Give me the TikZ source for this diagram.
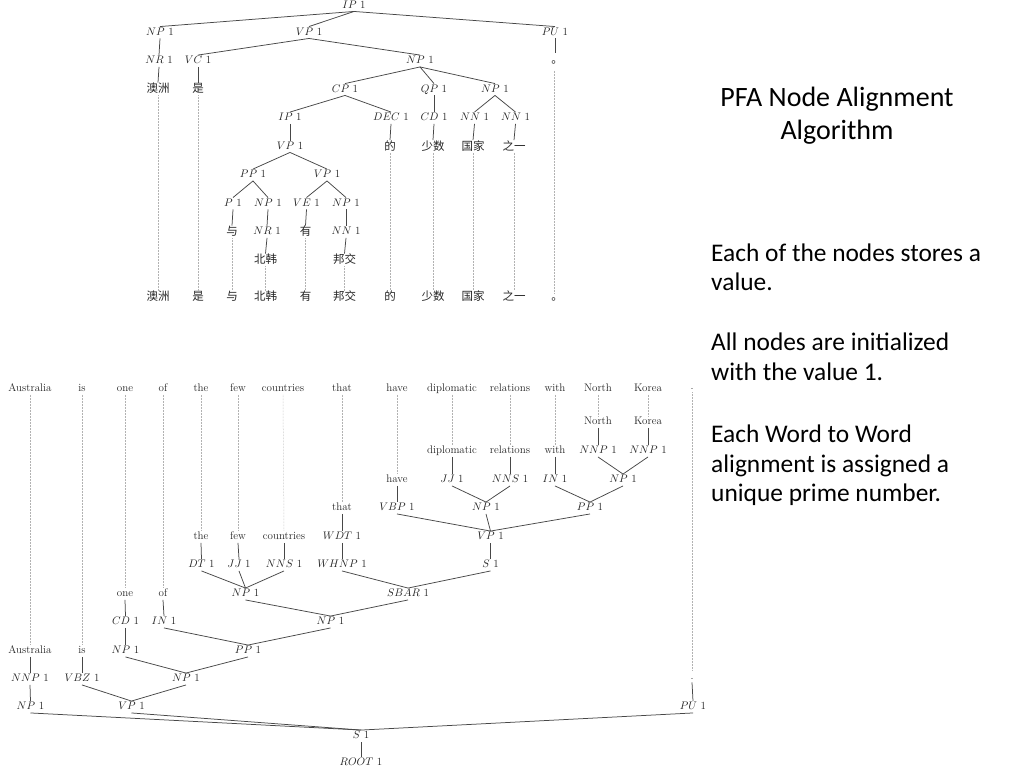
\documentclass[tikz,border=0pt]{standalone}
\usepackage{fontspec}
\newfontfamily\cjkfont{Noto Sans CJK SC}
\newfontfamily\sidefont{Carlito}
\newcommand{\tcat}[1]{$#1$\ 1}
\begin{document}
\begin{tikzpicture}[x=1pt,y=-1pt,
  lab/.style={inner sep=1pt, text height=7.5pt, text depth=2pt, font=\fontsize{11}{13}\selectfont, text=black!85},
  zh/.style={inner sep=1pt, text height=9pt, text depth=1.5pt, font=\cjkfont\fontsize{11.5}{13}\selectfont, text=black!85},
  edge/.style={draw=black!72, line width=0.75pt},
  dots/.style={draw=black!30, line width=0.5pt, densely dotted},
  sidetext/.style={font=\sidefont\fontsize{25.4}{30}\selectfont, anchor=base west, inner sep=0pt, text=black},
  titletext/.style={font=\sidefont\fontsize{28}{33}\selectfont, anchor=base, inner sep=0pt, text=black}]
\useasboundingbox (0,0) rectangle (1024,768);
\fill[white] (0,0) rectangle (1024,768);

% ================= top tree =================
\node[lab] (tip) at (354,5.5) {\tcat{IP}};
\node[lab] (tnp) at (160,32.5) {\tcat{NP}};
\node[lab] (tvp) at (309,32.5) {\tcat{VP}};
\node[lab] (tpu) at (555,32.5) {\tcat{PU}};
\node[lab] (tnr) at (159,61) {\tcat{NR}};
\node[lab] (tvc) at (198,61) {\tcat{VC}};
\node[lab] (tnp2) at (420,61) {\tcat{NP}};
\node[zh] (tw1) at (158,89) {澳洲};
\node[zh] (tw2) at (198,89) {是};
\node[zh] (tw11) at (557.2,59.3) {。};
\node[lab] (tcp) at (345,89.5) {\tcat{CP}};
\node[lab] (tqp) at (434,89.5) {\tcat{QP}};
\node[lab] (tnp3) at (495,89.5) {\tcat{NP}};
\node[lab] (tip2) at (290,118) {\tcat{IP}};
\node[lab] (tdec) at (391,118) {\tcat{DEC}};
\node[lab] (tcd) at (434,118) {\tcat{CD}};
\node[lab] (tnn1) at (474.5,118) {\tcat{NN}};
\node[lab] (tnn2) at (515.5,118) {\tcat{NN}};
\node[lab] (tvp2) at (290,146.5) {\tcat{VP}};
\node[zh] (tw7) at (390,146.5) {的};
\node[zh] (tw8) at (433,146.5) {少数};
\node[zh] (tw9) at (473,146.5) {国家};
\node[zh] (tw10) at (514,146.5) {之一};
\node[lab] (tpp) at (253,175) {\tcat{PP}};
\node[lab] (tvp3) at (327,175) {\tcat{VP}};
\node[lab] (tp) at (233,203.5) {\tcat{P}};
\node[lab] (tnp4) at (268,203.5) {\tcat{NP}};
\node[lab] (tve) at (306.5,203.5) {\tcat{VE}};
\node[lab] (tnp5) at (346,203.5) {\tcat{NP}};
\node[zh] (tw3) at (232,232) {与};
\node[lab] (tnr2) at (267,232) {\tcat{NR}};
\node[zh] (tw5) at (305.5,232) {有};
\node[lab] (tnn3) at (346,232) {\tcat{NN}};
\node[zh] (tw4) at (265.5,260) {北韩};
\node[zh] (tw6) at (344.5,260) {邦交};
% bottom row
\node[zh] (tb1) at (158,297) {澳洲};
\node[zh] (tb2) at (198,297) {是};
\node[zh] (tb3) at (232,297) {与};
\node[zh] (tb4) at (265.5,297) {北韩};
\node[zh] (tb5) at (305.5,297) {有};
\node[zh] (tb6) at (344.5,297) {邦交};
\node[zh] (tb7) at (390,297) {的};
\node[zh] (tb8) at (433,297) {少数};
\node[zh] (tb9) at (473,297) {国家};
\node[zh] (tb10) at (514,297) {之一};
\node[zh] (tb11) at (557.2,296.3) {。};

% top tree edges
\draw[edge] (tip.south) -- (tnp.north);
\draw[edge] (tip.south) -- (tvp.north);
\draw[edge] (tip.south) -- (tpu.north);
\draw[edge] (tnp.south) -- (tnr.north);
\draw[edge] (tnr.south) -- (tw1.north);
\draw[edge] (tvp.south) -- (tvc.north);
\draw[edge] (tvp.south) -- (tnp2.north);
\draw[edge] (tvc.south) -- (tw2.north);
\draw[edge] (tpu.south) -- ([xshift=-2.2pt]tw11.north);
\draw[edge] (tnp2.south) -- (tcp.north);
\draw[edge] (tnp2.south) -- (tqp.north);
\draw[edge] (tnp2.south) -- (tnp3.north);
\draw[edge] (tcp.south) -- (tip2.north);
\draw[edge] (tcp.south) -- (tdec.north);
\draw[edge] (tqp.south) -- (tcd.north);
\draw[edge] (tnp3.south) -- (tnn1.north);
\draw[edge] (tnp3.south) -- (tnn2.north);
\draw[edge] (tdec.south) -- (tw7.north);
\draw[edge] (tcd.south) -- (tw8.north);
\draw[edge] (tnn1.south) -- (tw9.north);
\draw[edge] (tnn2.south) -- (tw10.north);
\draw[edge] (tip2.south) -- (tvp2.north);
\draw[edge] (tvp2.south) -- (tpp.north);
\draw[edge] (tvp2.south) -- (tvp3.north);
\draw[edge] (tpp.south) -- (tp.north);
\draw[edge] (tpp.south) -- (tnp4.north);
\draw[edge] (tvp3.south) -- (tve.north);
\draw[edge] (tvp3.south) -- (tnp5.north);
\draw[edge] (tp.south) -- (tw3.north);
\draw[edge] (tnp4.south) -- (tnr2.north);
\draw[edge] (tnr2.south) -- (tw4.north);
\draw[edge] (tve.south) -- (tw5.north);
\draw[edge] (tnp5.south) -- (tnn3.north);
\draw[edge] (tnn3.south) -- (tw6.north);
% dotted alignments (top)
\draw[dots] (tw1.south) -- (tb1.north);
\draw[dots] (tw2.south) -- (tb2.north);
\draw[dots] (tw3.south) -- (tb3.north);
\draw[dots] (tw4.south) -- (tb4.north);
\draw[dots] (tw5.south) -- (tb5.north);
\draw[dots] (tw6.south) -- (tb6.north);
\draw[dots] (tw7.south) -- (tb7.north);
\draw[dots] (tw8.south) -- (tb8.north);
\draw[dots] (tw9.south) -- (tb9.north);
\draw[dots] (tw10.south) -- (tb10.north);
\draw[dots] ([xshift=-3.2pt,yshift=-5pt]tw11.south) -- ([xshift=-3.2pt,yshift=-4pt]tb11.north);

% ================= bottom tree =================
\node[lab] (ew1) at (30,389) {Australia};
\node[lab] (ew2) at (82,389) {is};
\node[lab] (ew3) at (125,389) {one};
\node[lab] (ew4) at (163,389) {of};
\node[lab] (ew5) at (201,389) {the};
\node[lab] (ew6) at (238,389) {few};
\node[lab] (ew7) at (283,389) {countries};
\node[lab] (ew8) at (342,389) {that};
\node[lab] (ew9) at (397,389) {have};
\node[lab] (ew10) at (452,389) {diplomatic};
\node[lab] (ew11) at (510,389) {relations};
\node[lab] (ew12) at (555,389) {with};
\node[lab] (ew13) at (598,389) {North};
\node[lab] (ew14) at (648,389) {Korea};
\node[lab] (ew15) at (692,386.5) {.};

\node[lab] (el1) at (30,651) {Australia};
\node[lab] (el2) at (82,651) {is};
\node[lab] (el3) at (125,594) {one};
\node[lab] (el4) at (163,594) {of};
\node[lab] (el5) at (201,537) {the};
\node[lab] (el6) at (238,537) {few};
\node[lab] (el7) at (284,537) {countries};
\node[lab] (el8) at (342,508) {that};
\node[lab] (el9) at (397,480) {have};
\node[lab] (el10) at (452,451) {diplomatic};
\node[lab] (el11) at (510,451) {relations};
\node[lab] (el12) at (555,451) {with};
\node[lab] (el13) at (598,422) {North};
\node[lab] (el14) at (648,422) {Korea};
\node[lab] (el15) at (692,676.5) {.};

\node[lab] (ennp1) at (30,679) {\tcat{NNP}};
\node[lab] (evbz) at (82,679) {\tcat{VBZ}};
\node[lab] (ecd) at (125.5,622) {\tcat{CD}};
\node[lab] (ein1) at (164,622) {\tcat{IN}};
\node[lab] (edt) at (201.5,565) {\tcat{DT}};
\node[lab] (ejj1) at (239,565) {\tcat{JJ}};
\node[lab] (enns1) at (284,565) {\tcat{NNS}};
\node[lab] (ewdt) at (342,537) {\tcat{WDT}};
\node[lab] (evbp) at (397,508) {\tcat{VBP}};
\node[lab] (ejj2) at (452,480) {\tcat{JJ}};
\node[lab] (enns2) at (510,480) {\tcat{NNS}};
\node[lab] (ein2) at (555,480) {\tcat{IN}};
\node[lab] (ennp2) at (598,451) {\tcat{NNP}};
\node[lab] (ennp3) at (648,451) {\tcat{NNP}};

\node[lab] (enp1) at (30.5,707) {\tcat{NP}};
\node[lab] (enp2) at (125.5,651) {\tcat{NP}};
\node[lab] (ewhnp) at (342,565) {\tcat{WHNP}};
\node[lab] (enp3) at (623,480) {\tcat{NP}};
\node[lab] (epp1) at (590,508) {\tcat{PP}};
\node[lab] (enp4) at (486,508) {\tcat{NP}};
\node[lab] (evp1) at (490.5,537) {\tcat{VP}};
\node[lab] (es1) at (490.5,565) {\tcat{S}};
\node[lab] (esbar) at (408,594) {\tcat{SBAR}};
\node[lab] (enp5) at (245.5,594) {\tcat{NP}};
\node[lab] (enp6) at (330.5,622) {\tcat{NP}};
\node[lab] (epp2) at (248,651) {\tcat{PP}};
\node[lab] (enp7) at (186,679) {\tcat{NP}};
\node[lab] (evp2) at (131.5,707) {\tcat{VP}};
\node[lab] (epu) at (693,707) {\tcat{PU}};
\node[lab] (es2) at (361,736) {\tcat{S}};
\node[lab] (eroot) at (361,763) {\tcat{ROOT}};

% dotted alignments (bottom)
\draw[dots] (ew1.south) -- (el1.north);
\draw[dots] (ew2.south) -- (el2.north);
\draw[dots] (ew3.south) -- (el3.north);
\draw[dots] (ew4.south) -- (el4.north);
\draw[dots] (ew5.south) -- (el5.north);
\draw[dots] (ew6.south) -- (el6.north);
\draw[dots] (ew7.south) -- (el7.north);
\draw[dots] (ew8.south) -- (el8.north);
\draw[dots] (ew9.south) -- (el9.north);
\draw[dots] (ew10.south) -- (el10.north);
\draw[dots] (ew11.south) -- (el11.north);
\draw[dots] (ew12.south) -- (el12.north);
\draw[dots] (ew13.south) -- (el13.north);
\draw[dots] (ew14.south) -- (el14.north);
\draw[dots] (ew15.south) -- (el15.north);

% bottom tree edges
\draw[edge] (el1.south) -- (ennp1.north);
\draw[edge] (ennp1.south) -- (enp1.north);
\draw[edge] (el2.south) -- (evbz.north);
\draw[edge] (el3.south) -- (ecd.north);
\draw[edge] (ecd.south) -- (enp2.north);
\draw[edge] (el4.south) -- (ein1.north);
\draw[edge] (el5.south) -- (edt.north);
\draw[edge] (el6.south) -- (ejj1.north);
\draw[edge] (el7.south) -- (enns1.north);
\draw[edge] (el8.south) -- (ewdt.north);
\draw[edge] (ewdt.south) -- (ewhnp.north);
\draw[edge] (el9.south) -- (evbp.north);
\draw[edge] (el10.south) -- (ejj2.north);
\draw[edge] (el11.south) -- (enns2.north);
\draw[edge] (el12.south) -- (ein2.north);
\draw[edge] (el13.south) -- (ennp2.north);
\draw[edge] (el14.south) -- (ennp3.north);
\draw[edge] (el15.south) -- (epu.north);
\draw[edge] (enp3.north) -- (ennp2.south);
\draw[edge] (enp3.north) -- (ennp3.south);
\draw[edge] (epp1.north) -- (ein2.south);
\draw[edge] (epp1.north) -- (enp3.south);
\draw[edge] (enp4.north) -- (ejj2.south);
\draw[edge] (enp4.north) -- (enns2.south);
\draw[edge] (evp1.north) -- (evbp.south);
\draw[edge] (evp1.north) -- (enp4.south);
\draw[edge] (evp1.north) -- (epp1.south);
\draw[edge] (es1.north) -- (evp1.south);
\draw[edge] (esbar.north) -- (ewhnp.south);
\draw[edge] (esbar.north) -- (es1.south);
\draw[edge] (enp5.north) -- (edt.south);
\draw[edge] (enp5.north) -- (ejj1.south);
\draw[edge] (enp5.north) -- (enns1.south);
\draw[edge] (enp6.north) -- (enp5.south);
\draw[edge] (enp6.north) -- (esbar.south);
\draw[edge] (epp2.north) -- (ein1.south);
\draw[edge] (epp2.north) -- (enp6.south);
\draw[edge] (enp7.north) -- (enp2.south);
\draw[edge] (enp7.north) -- (epp2.south);
\draw[edge] (evp2.north) -- (evbz.south);
\draw[edge] (evp2.north) -- (enp7.south);
\draw[edge] (es2.north) -- (enp1.south);
\draw[edge] (es2.north) -- (evp2.south);
\draw[edge] (es2.north) -- (epu.south);
\draw[edge] (eroot.north) -- (es2.south);

% ================= side text =================
\node[titletext] (title1) at (837,106.7) {PFA Node Alignment};
\node[titletext] (title2) at (837,139.3) {Algorithm};
\node[sidetext] (s1) at (711,261.7) {Each of the nodes stores a};
\node[sidetext] (s2) at (711,290.5) {value.};
\node[sidetext] (s3) at (711,350.7) {All nodes are initialized};
\node[sidetext] (s4) at (711,380.5) {with the value 1.};
\node[sidetext] (s5) at (711,442.5) {Each Word to Word};
\node[sidetext] (s6) at (711,472.5) {alignment is assigned a};
\node[sidetext] (s7) at (711,501) {unique prime number.};
\end{tikzpicture}
\end{document}
